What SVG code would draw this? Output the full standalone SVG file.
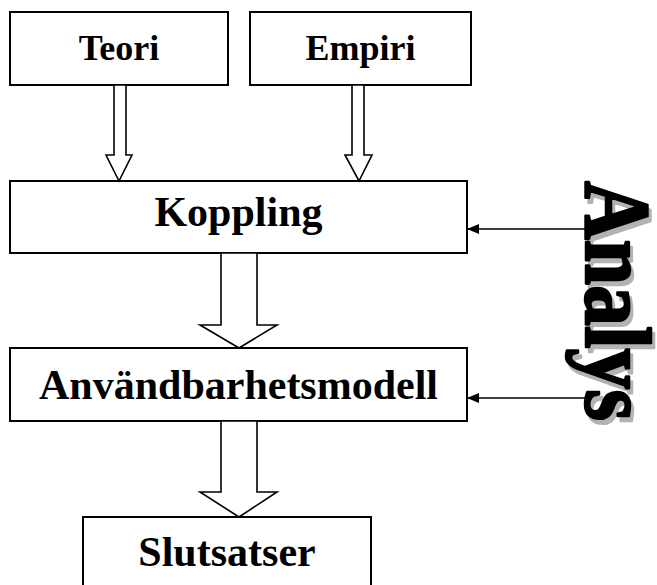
<svg xmlns="http://www.w3.org/2000/svg" width="657" height="585" viewBox="0 0 657 585">
<defs>
<style>
.box{fill:#fff;stroke:#000;stroke-width:2}
.blk{fill:#fff;stroke:#000;stroke-width:1.6;stroke-linejoin:miter}
.lbl{font-family:"Liberation Serif","Times New Roman",serif;font-weight:bold;fill:#000;text-anchor:middle}
.ln{stroke:#000;stroke-width:1.6;fill:none}
.big{font-family:"Liberation Serif","Times New Roman",serif;font-weight:bold;font-size:94px;stroke-width:2.5;stroke-linejoin:round}
</style>
<marker id="ah" viewBox="0 0 12 10" refX="12" refY="5" markerWidth="12" markerHeight="10" markerUnits="userSpaceOnUse" orient="auto">
<path d="M0,0 L12,5 L0,10 Z" fill="#000"/>
</marker>
</defs>
<rect width="657" height="585" fill="#fff"/>
<g id="teori"><rect class="box" x="10" y="12" width="218" height="73"/><text class="lbl" x="119" y="60" font-size="36">Teori</text></g>
<g id="empiri"><rect class="box" x="250" y="12" width="221" height="73"/><text class="lbl" x="360.5" y="60" font-size="36">Empiri</text></g>
<g id="koppling"><rect class="box" x="10" y="181" width="457" height="72"/><text class="lbl" x="238.5" y="226" font-size="42">Koppling</text></g>
<g id="anvandbarhetsmodell"><rect class="box" x="10" y="348" width="457" height="73"/><text class="lbl" x="238.5" y="399" font-size="42">Användbarhetsmodell</text></g>
<g id="slutsatser"><rect class="box" x="83" y="517" width="288" height="80"/><text class="lbl" x="227" y="566" font-size="42">Slutsatser</text></g>
<g id="analys">
<text class="big" transform="translate(589,186) rotate(90)" x="0" y="0" fill="#b3b3b3" stroke="#b3b3b3" textLength="240" lengthAdjust="spacingAndGlyphs">Analys</text>
<text class="big" transform="translate(586,181) rotate(90)" x="0" y="0" fill="#000" stroke="#000" textLength="240" lengthAdjust="spacingAndGlyphs">Analys</text>
</g>
<g id="connectors">
<path class="blk" d="M114,85 L126,85 L126,155 L132,155 L119,181 L106,155 L114,155 Z"/>
<path class="blk" d="M352,85 L364,85 L364,155 L372,155 L359,181 L345,155 L352,155 Z"/>
<path class="blk" d="M221,253 L257,253 L257,325 L277,325 L239,348 L200,325 L221,325 Z"/>
<path class="blk" d="M221,421 L257,421 L257,492 L277,492 L239,517 L200,492 L221,492 Z"/>
<line class="ln" x1="586" y1="229" x2="467" y2="229" marker-end="url(#ah)"/>
<line class="ln" x1="586" y1="398" x2="467" y2="398" marker-end="url(#ah)"/>
</g>
</svg>
